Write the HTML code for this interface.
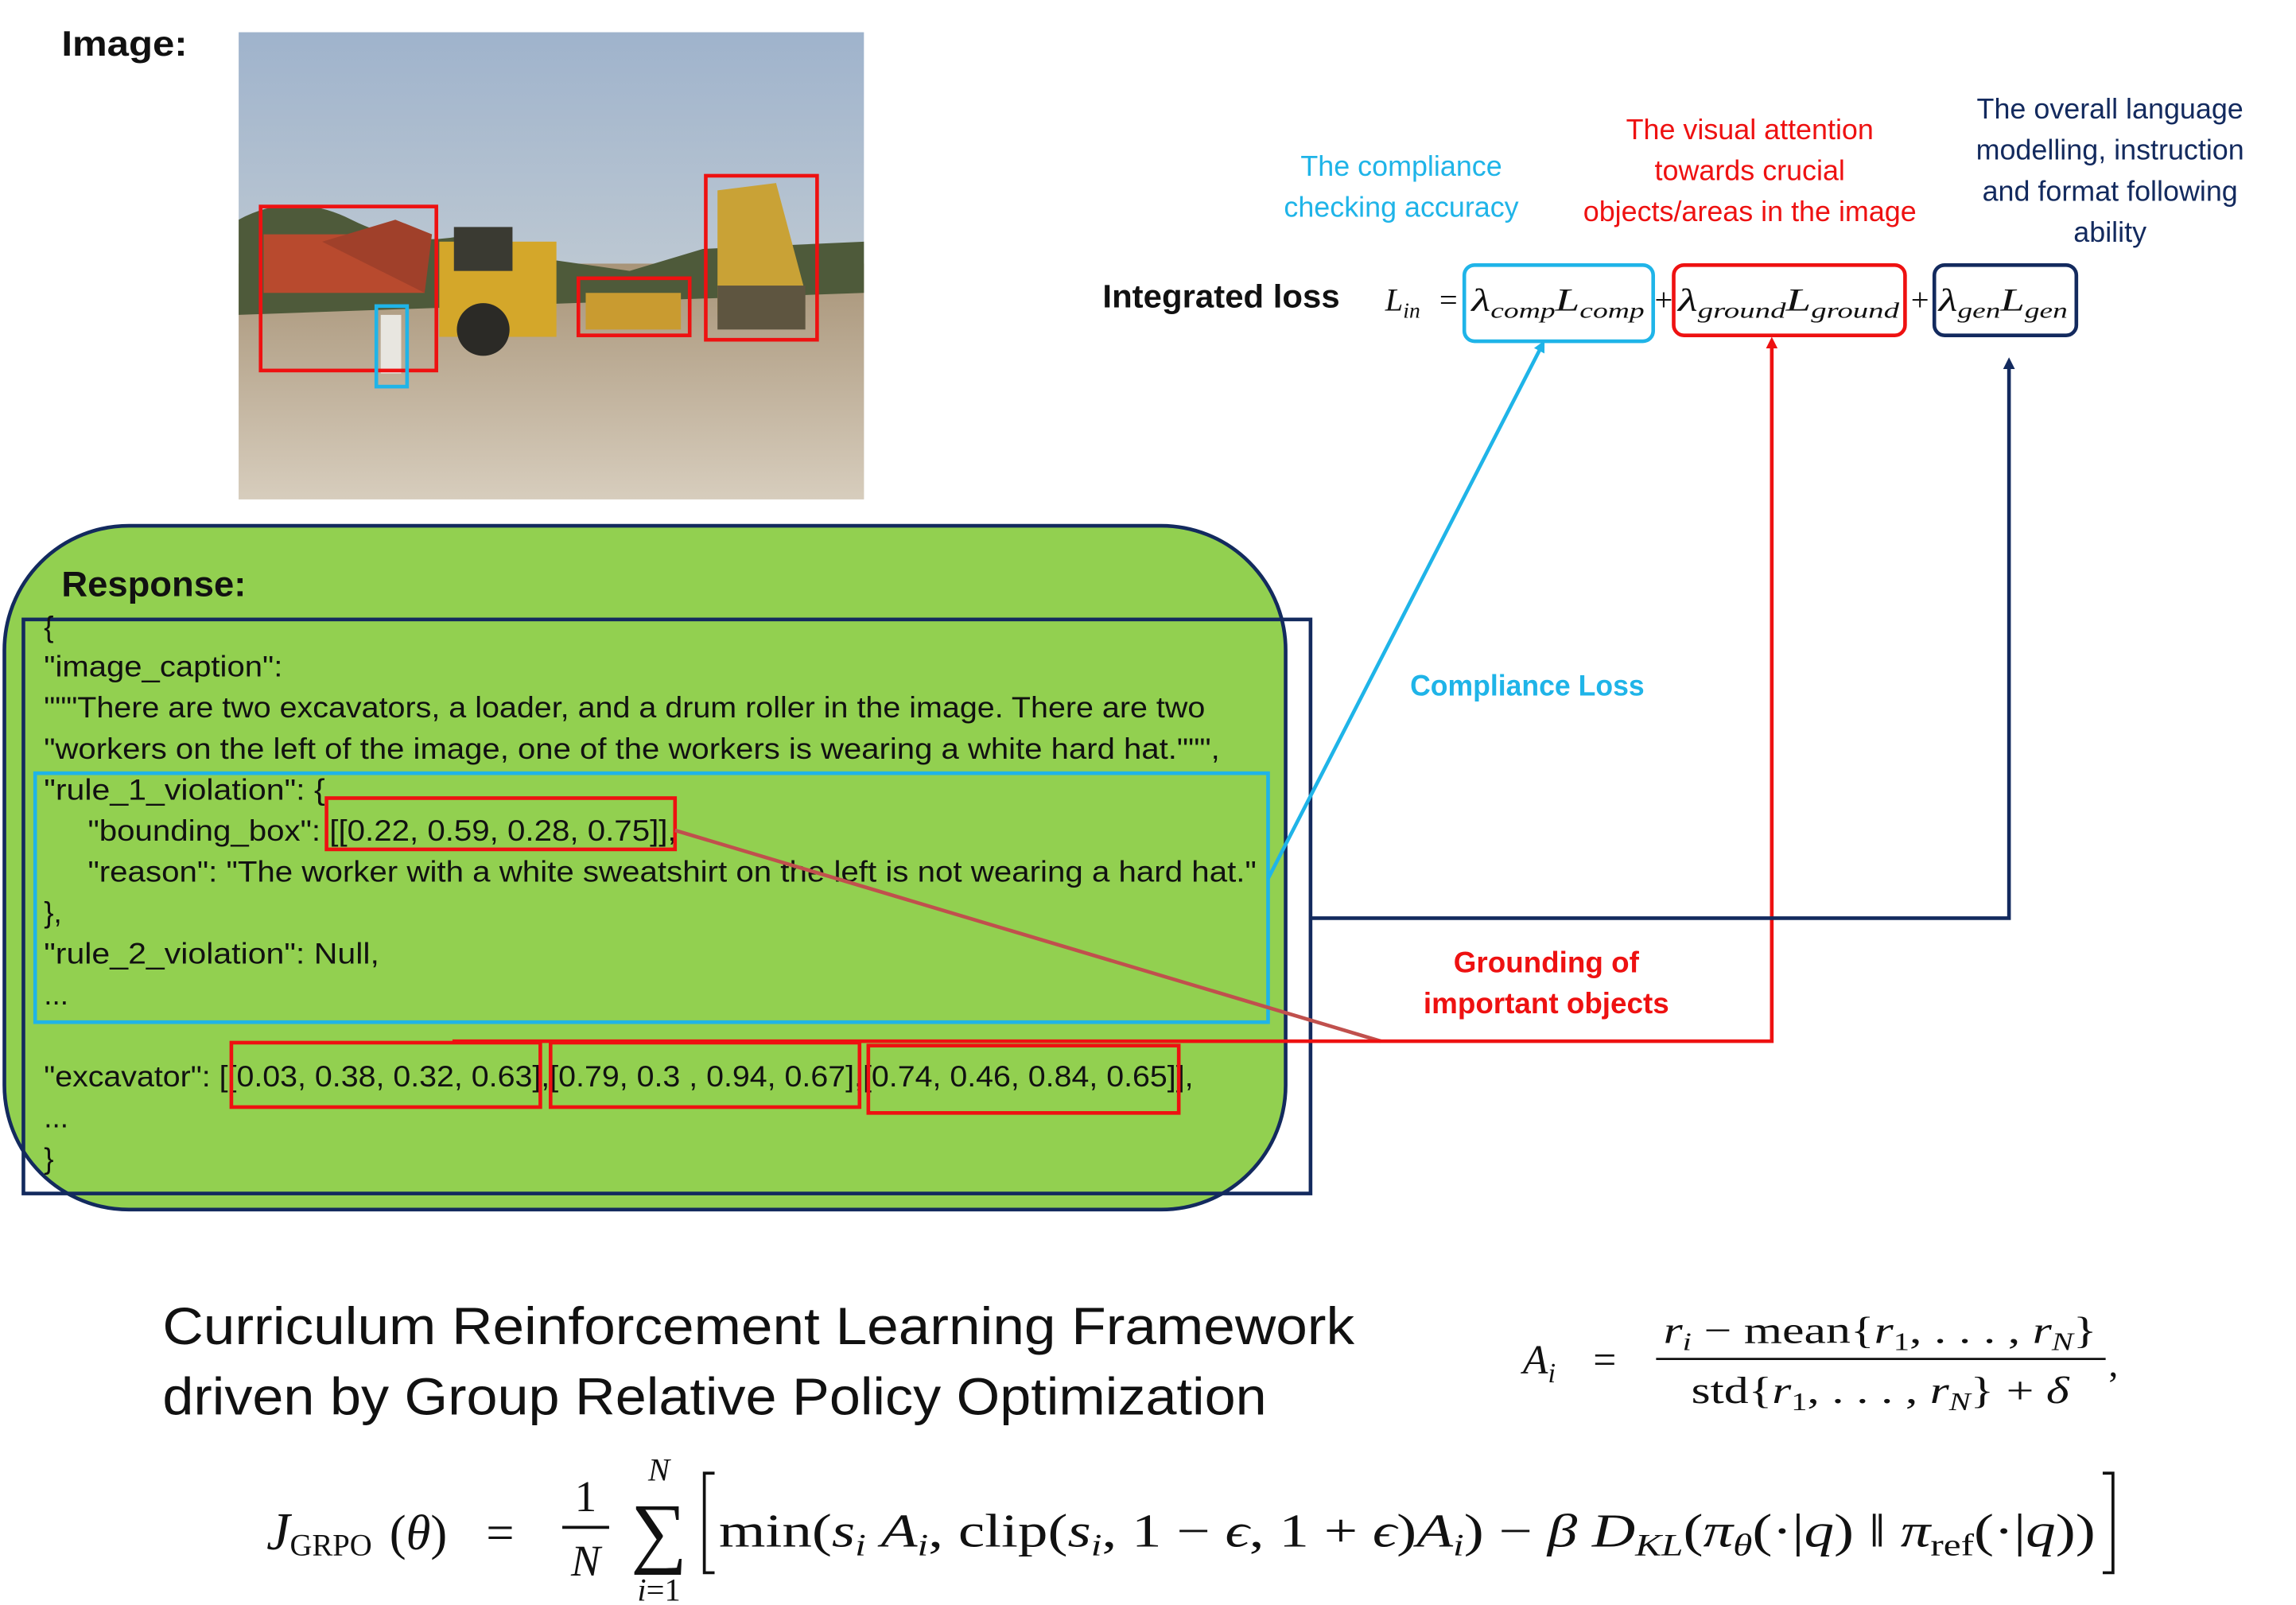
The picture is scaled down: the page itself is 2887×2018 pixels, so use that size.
<!DOCTYPE html>
<html><head><meta charset="utf-8"><style>
html,body{margin:0;padding:0;background:#fff;}
svg{display:block;}
</style></head><body>
<svg width="2887" height="2018" viewBox="0 0 1568 1096" xmlns="http://www.w3.org/2000/svg" font-family="Liberation Sans, sans-serif">
<defs>
<marker id="aC" markerWidth="8" markerHeight="8" refX="4" refY="4" orient="auto" markerUnits="userSpaceOnUse"><path d="M0,0 L8,4 L0,8 Z" fill="#1fb4e8"/></marker>
<marker id="aR" markerWidth="8" markerHeight="8" refX="4" refY="4" orient="auto" markerUnits="userSpaceOnUse"><path d="M0,0 L8,4 L0,8 Z" fill="#ee1111"/></marker>
<marker id="aN" markerWidth="8" markerHeight="8" refX="4" refY="4" orient="auto" markerUnits="userSpaceOnUse"><path d="M0,0 L8,4 L0,8 Z" fill="#132a5e"/></marker>
<linearGradient id="sky" x1="0" y1="0" x2="0" y2="1"><stop offset="0" stop-color="#9fb3cc"/><stop offset="1" stop-color="#d9dcd8"/></linearGradient>
<linearGradient id="gnd" x1="0" y1="0" x2="0" y2="1"><stop offset="0" stop-color="#a89478"/><stop offset="1" stop-color="#d7cdbd"/></linearGradient>
</defs>

<text x="42" y="38" font-size="24" font-weight="bold" fill="#111" textLength="86" lengthAdjust="spacingAndGlyphs">Image:</text>
<rect x="163" y="22" width="427" height="319" fill="url(#sky)"/>
<rect x="163" y="180" width="427" height="161" fill="url(#gnd)"/>
<path d="M163,150 Q200,130 240,150 T320,160 L360,175 L430,185 L480,170 L590,165 L590,200 L163,215 Z" fill="#4e5a3a"/>
<rect x="180" y="160" width="110" height="40" fill="#b84a2e"/>
<path d="M220,165 L270,150 L295,160 L290,200 Z" fill="#a0402a"/>
<rect x="300" y="165" width="80" height="65" fill="#d4a72a"/>
<rect x="310" y="155" width="40" height="30" fill="#3a3a32"/>
<circle cx="330" cy="225" r="18" fill="#2b2a26"/>
<rect x="400" y="200" width="65" height="25" fill="#c99b30"/>
<path d="M490,130 L530,125 L550,200 L490,215 Z" fill="#c9a236"/>
<rect x="490" y="195" width="60" height="30" fill="#5e5540"/>
<rect x="260" y="215" width="14" height="40" fill="#e8e6e0"/>
<rect x="178" y="141" width="120" height="112" fill="none" stroke="#ee1111" stroke-width="2.5"/>
<rect x="257" y="209" width="21" height="55" fill="none" stroke="#1fb4e8" stroke-width="2.5"/>
<rect x="395" y="190" width="76" height="39" fill="none" stroke="#ee1111" stroke-width="2.5"/>
<rect x="482" y="120" width="76" height="112" fill="none" stroke="#ee1111" stroke-width="2.5"/>

<rect x="3" y="359" width="875" height="467" rx="85" ry="85" fill="#92d050" stroke="#132a5e" stroke-width="2.5"/>
<text x="42" y="407" font-size="24" font-weight="bold" fill="#111" textLength="126" lengthAdjust="spacingAndGlyphs">Response:</text>
<rect x="16" y="423" width="879" height="392" fill="none" stroke="#132a5e" stroke-width="2.5"/>
<rect x="24" y="528" width="842" height="170" fill="none" stroke="#1fb4e8" stroke-width="2.5"/>

<g font-size="20" fill="#111">
<text x="30" y="435">{</text>
<text x="30" y="462" textLength="163" lengthAdjust="spacingAndGlyphs">"image_caption":</text>
<text x="30" y="490" textLength="793" lengthAdjust="spacingAndGlyphs">"""There are two excavators, a loader, and a drum roller in the image. There are two</text>
<text x="30" y="518" textLength="803" lengthAdjust="spacingAndGlyphs">"workers on the left of the image, one of the workers is wearing a white hard hat.""",</text>
<text x="30" y="546" textLength="192" lengthAdjust="spacingAndGlyphs">"rule_1_violation": {</text>
<text x="60" y="574" textLength="402" lengthAdjust="spacingAndGlyphs">"bounding_box": [[0.22, 0.59, 0.28, 0.75]],</text>
<text x="60" y="602" textLength="798" lengthAdjust="spacingAndGlyphs">"reason": "The worker with a white sweatshirt on the left is not wearing a hard hat."</text>
<text x="30" y="630">},</text>
<text x="30" y="658" textLength="229" lengthAdjust="spacingAndGlyphs">"rule_2_violation": Null,</text>
<text x="30" y="686">...</text>
<text x="30" y="742" textLength="785" lengthAdjust="spacingAndGlyphs">"excavator": [[0.03, 0.38, 0.32, 0.63],[0.79, 0.3 , 0.94, 0.67],[0.74, 0.46, 0.84, 0.65]],</text>
<text x="30" y="770">...</text>
<text x="30" y="798">}</text>
</g>

<g fill="none" stroke="#ee1111" stroke-width="2.5">
<rect x="223" y="545" width="238" height="35"/>
<rect x="158" y="712" width="211" height="44"/>
<rect x="376" y="712" width="211" height="44"/>
<rect x="593" y="714" width="212" height="46"/>
</g>

<line x1="461" y1="567" x2="943" y2="711" stroke="#c0504d" stroke-width="2.5"/>
<polyline points="309,711 1210,711 1210,234" fill="none" stroke="#ee1111" stroke-width="2.5" marker-end="url(#aR)"/>
<line x1="866" y1="600" x2="1053" y2="236" stroke="#1fb4e8" stroke-width="2.5" marker-end="url(#aC)"/>
<polyline points="895,627 1372,627 1372,248" fill="none" stroke="#132a5e" stroke-width="2.5" marker-end="url(#aN)"/>

<text x="963" y="475" font-size="20" font-weight="bold" fill="#1fb4e8" textLength="160" lengthAdjust="spacingAndGlyphs">Compliance Loss</text>
<g font-size="20" font-weight="bold" fill="#ee1111" text-anchor="middle">
<text x="1056" y="664">Grounding of</text>
<text x="1056" y="692">important objects</text>
</g>

<g font-size="19.5" text-anchor="middle">
<text x="957" y="120" fill="#1fb4e8">The compliance</text>
<text x="957" y="148" fill="#1fb4e8">checking accuracy</text>
<text x="1195" y="95" fill="#ee1111">The visual attention</text>
<text x="1195" y="123" fill="#ee1111">towards crucial</text>
<text x="1195" y="151" fill="#ee1111">objects/areas in the image</text>
<text x="1441" y="81" fill="#132a5e">The overall language</text>
<text x="1441" y="109" fill="#132a5e">modelling, instruction</text>
<text x="1441" y="137" fill="#132a5e">and format following</text>
<text x="1441" y="165" fill="#132a5e">ability</text>
</g>

<text x="753" y="210" font-size="22" font-weight="bold" fill="#111" textLength="162" lengthAdjust="spacingAndGlyphs">Integrated loss</text>

<rect x="1000" y="181" width="129" height="52" rx="7" fill="none" stroke="#1fb4e8" stroke-width="2.5"/>
<rect x="1143" y="181" width="158" height="48" rx="7" fill="none" stroke="#ee1111" stroke-width="2.5"/>
<rect x="1321" y="181" width="97" height="48" rx="7" fill="none" stroke="#132a5e" stroke-width="2.5"/>
<g font-family="Liberation Serif, serif" font-size="22" fill="#111" font-style="italic">
<text x="946" y="212">L<tspan font-size="15" dy="5">in</tspan></text>
<text x="983" y="212" font-style="normal">=</text>
<text x="1005" y="212" textLength="118" lengthAdjust="spacingAndGlyphs">λ<tspan font-size="15" dy="5">comp</tspan><tspan dy="-5">L</tspan><tspan font-size="15" dy="5">comp</tspan></text>
<text x="1130" y="212" font-style="normal">+</text>
<text x="1146" y="212" textLength="151" lengthAdjust="spacingAndGlyphs">λ<tspan font-size="15" dy="5">ground</tspan><tspan dy="-5">L</tspan><tspan font-size="15" dy="5">ground</tspan></text>
<text x="1305" y="212" font-style="normal">+</text>
<text x="1324" y="212" textLength="88" lengthAdjust="spacingAndGlyphs">λ<tspan font-size="15" dy="5">gen</tspan><tspan dy="-5">L</tspan><tspan font-size="15" dy="5">gen</tspan></text>
</g>

<text x="111" y="918" font-size="36" fill="#111" textLength="814" lengthAdjust="spacingAndGlyphs">Curriculum Reinforcement Learning Framework</text>
<text x="111" y="966" font-size="36" fill="#111" textLength="754" lengthAdjust="spacingAndGlyphs">driven by Group Relative Policy Optimization</text>

<g font-family="Liberation Serif, serif" fill="#111">
<text x="1040" y="938" font-size="28" font-style="italic">A<tspan font-size="19" dy="6">i</tspan></text>
<text x="1088" y="938" font-size="28">=</text>
<line x1="1131" y1="928" x2="1438" y2="928" stroke="#111" stroke-width="1.5"/>
<text x="1284" y="917" font-size="26" text-anchor="middle" textLength="296" lengthAdjust="spacingAndGlyphs"><tspan font-style="italic">r</tspan><tspan font-size="17" font-style="italic" dy="5">i</tspan><tspan dy="-5"> − mean{</tspan><tspan font-style="italic">r</tspan><tspan font-size="17" dy="5">1</tspan><tspan dy="-5">, . . . , </tspan><tspan font-style="italic">r</tspan><tspan font-size="17" font-style="italic" dy="5">N</tspan><tspan dy="-5">}</tspan></text>
<text x="1284" y="958" font-size="26" text-anchor="middle" textLength="258" lengthAdjust="spacingAndGlyphs">std{<tspan font-style="italic">r</tspan><tspan font-size="17" dy="5">1</tspan><tspan dy="-5">, . . . , </tspan><tspan font-style="italic">r</tspan><tspan font-size="17" font-style="italic" dy="5">N</tspan><tspan dy="-5">} + </tspan><tspan font-style="italic">δ</tspan></text>
<text x="1440" y="940" font-size="26">,</text>
</g>

<g font-family="Liberation Serif, serif" fill="#111">
<text x="182" y="1058" font-size="36" font-style="italic">J</text>
<text x="198" y="1062" font-size="21">GRPO</text>
<text x="266" y="1058" font-size="34">(<tspan font-style="italic">θ</tspan>)</text>
<text x="332" y="1058" font-size="34">=</text>
<text x="400" y="1032" font-size="30" text-anchor="middle">1</text>
<line x1="384" y1="1043" x2="416" y2="1043" stroke="#111" stroke-width="2"/>
<text x="400" y="1076" font-size="30" text-anchor="middle" font-style="italic">N</text>
<text x="450" y="1011" font-size="22" text-anchor="middle" font-style="italic">N</text>
<text x="450" y="1064" font-size="54" text-anchor="middle">∑</text>
<text x="450" y="1093" font-size="22" text-anchor="middle"><tspan font-style="italic">i</tspan>=1</text>
<path d="M488,1006 L481,1006 L481,1074 L488,1074" fill="none" stroke="#111" stroke-width="2"/>
<text x="491" y="1056" font-size="32" textLength="940" lengthAdjust="spacingAndGlyphs">min(<tspan font-style="italic">s</tspan><tspan font-size="21" font-style="italic" dy="6">i</tspan><tspan dy="-6"> </tspan><tspan font-style="italic">A</tspan><tspan font-size="21" font-style="italic" dy="6">i</tspan><tspan dy="-6">, clip(</tspan><tspan font-style="italic">s</tspan><tspan font-size="21" font-style="italic" dy="6">i</tspan><tspan dy="-6">, 1 − </tspan><tspan font-style="italic">ϵ</tspan><tspan>, 1 + </tspan><tspan font-style="italic">ϵ</tspan><tspan>)</tspan><tspan font-style="italic">A</tspan><tspan font-size="21" font-style="italic" dy="6">i</tspan><tspan dy="-6">) − </tspan><tspan font-style="italic">β D</tspan><tspan font-size="21" font-style="italic" dy="6">KL</tspan><tspan dy="-6">(</tspan><tspan font-style="italic">π</tspan><tspan font-size="21" font-style="italic" dy="6">θ</tspan><tspan dy="-6">(·|</tspan><tspan font-style="italic">q</tspan><tspan>) ‖ </tspan><tspan font-style="italic">π</tspan><tspan font-size="21" dy="6">ref</tspan><tspan dy="-6">(·|</tspan><tspan font-style="italic">q</tspan><tspan>))</tspan></text>
<path d="M1436,1006 L1443,1006 L1443,1074 L1436,1074" fill="none" stroke="#111" stroke-width="2"/>
</g>
</svg>
</body></html>
